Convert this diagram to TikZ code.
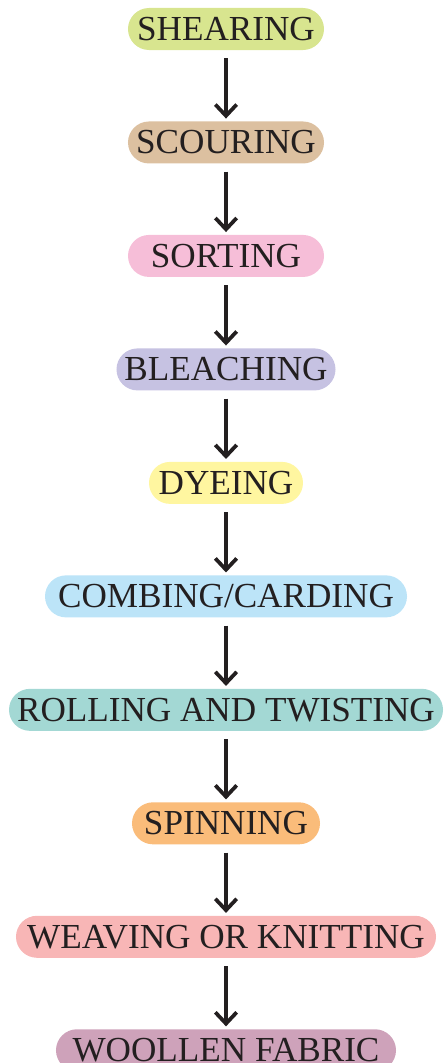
\documentclass[tikz,border=0pt]{standalone}
\usepackage{fontspec}
\setmainfont{Liberation Serif}
\usepackage{tikz}
\usetikzlibrary{positioning}
\usetikzlibrary{arrows.meta}
\usepackage{xcolor}

\definecolor{inkcol}{RGB}{35,31,32}
\definecolor{shearcol}{RGB}{216,229,143}
\definecolor{scourcol}{RGB}{220,192,160}
\definecolor{sortcol}{RGB}{246,190,216}
\definecolor{bleachcol}{RGB}{198,194,226}
\definecolor{dyecol}{RGB}{255,246,160}
\definecolor{combcol}{RGB}{188,228,248}
\definecolor{rollcol}{RGB}{163,216,212}
\definecolor{spincol}{RGB}{250,188,122}
\definecolor{weavecol}{RGB}{248,182,182}
\definecolor{woolcol}{RGB}{206,162,186}

\begin{document}
\begin{tikzpicture}[x=0.03cm, y=-0.03cm, node distance=2.13cm,
    stage/.style={rectangle, rounded corners=0.63cm, minimum height=1.26cm,
        inner xsep=0.2cm, inner ysep=0pt, text=inkcol,
        font=\fontsize{30}{32}\selectfont},
    flow/.style={-{Straight Barb[length=3.4mm,width=6.4mm]}, line width=3.2pt,
        draw=inkcol, shorten <=0.24cm, shorten >=0.08cm}]
    \useasboundingbox (0,0) rectangle (443,1063);

    % Process stages
    \node[stage, fill=shearcol, minimum width=5.88cm] (shear) at (226,29) {SHEARING};
    \node[stage, fill=scourcol, minimum width=5.88cm, below=of shear] (scour) {SCOURING};
    \node[stage, fill=sortcol, minimum width=5.88cm, below=of scour] (sort) {SORTING};
    \node[stage, fill=bleachcol, minimum width=6.57cm, below=of sort] (bleach) {BLEACHING};
    \node[stage, fill=dyecol, minimum width=4.62cm, below=of bleach] (dye) {DYEING};
    \node[stage, fill=combcol, minimum width=10.86cm, below=of dye] (comb) {COMBING/CARDING};
    \node[stage, fill=rollcol, minimum width=13.02cm, below=of comb] (roll) {ROLLING AND TWISTING};
    \node[stage, fill=spincol, minimum width=5.64cm, below=of roll] (spin) {SPINNING};
    \node[stage, fill=weavecol, minimum width=12.6cm, below=of spin] (weave) {WEAVING OR KNITTING};
    \node[stage, fill=woolcol, minimum width=10.2cm, below=of weave] (wool) {WOOLLEN FABRIC};

    % Arrows between stages
    \foreach \a/\b in {shear/scour, scour/sort, sort/bleach, bleach/dye, dye/comb,
                       comb/roll, roll/spin, spin/weave, weave/wool} {
        \draw[flow] (\a) -- (\b);
    }
\end{tikzpicture}
\end{document}
